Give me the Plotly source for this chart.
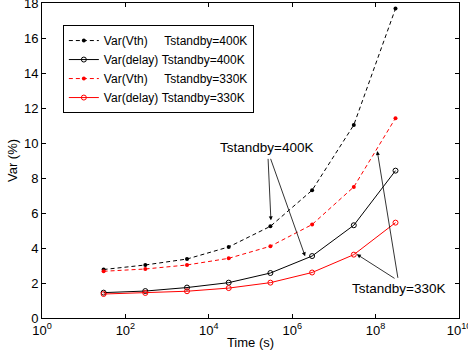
import plotly.graph_objects as go

time_s = [3e1, 3e2, 3e3, 3e4, 3e5, 3e6, 3e7, 3e8]
var_vth_400 = [2.77, 3.03, 3.37, 4.06, 5.24, 7.30, 11.03, 17.68]
var_delay_400 = [1.45, 1.54, 1.74, 2.02, 2.57, 3.54, 5.30, 8.42]
var_vth_330 = [2.67, 2.80, 3.03, 3.41, 4.10, 5.34, 7.49, 11.42]
var_delay_330 = [1.37, 1.43, 1.53, 1.71, 2.02, 2.60, 3.62, 5.45]

xtick_vals = [1, 1e2, 1e4, 1e6, 1e8, 1e10]
xtick_text = ["10<sup>0</sup>", "10<sup>2</sup>", "10<sup>4</sup>", "10<sup>6</sup>", "10<sup>8</sup>", "10<sup>10</sup>"]
ytick_vals = [0, 2, 4, 6, 8, 10, 12, 14, 16, 18]

NB = "\u00a0"
names = [
    "Var(Vth)" + NB * 5 + "Tstandby=400K",
    "Var(delay)" + NB + "Tstandby=400K",
    "Var(Vth)" + NB * 5 + "Tstandby=330K",
    "Var(delay)" + NB + "Tstandby=330K",
]

FONT = "Liberation Sans, Arial, Helvetica, sans-serif"
fig = go.Figure()
fig.add_trace(go.Scatter(x=time_s, y=var_vth_400, name=names[0], mode="lines+markers",
                         line=dict(color="black", width=1, dash="4px,3px"),
                         marker=dict(symbol="circle", size=4, color="black")))
fig.add_trace(go.Scatter(x=time_s, y=var_delay_400, name=names[1], mode="lines+markers",
                         line=dict(color="black", width=1),
                         marker=dict(symbol="circle-open", size=5, color="black", line=dict(width=1))))
fig.add_trace(go.Scatter(x=time_s, y=var_vth_330, name=names[2], mode="lines+markers",
                         line=dict(color="red", width=1, dash="4px,3px"),
                         marker=dict(symbol="circle", size=4, color="red")))
fig.add_trace(go.Scatter(x=time_s, y=var_delay_330, name=names[3], mode="lines+markers",
                         line=dict(color="red", width=1),
                         marker=dict(symbol="circle-open", size=5, color="red", line=dict(width=1))))

arrow = dict(showarrow=True, arrowhead=2, arrowsize=1, arrowwidth=0.8, arrowcolor="black",
             axref="x", ayref="y", text="")
# annotation positions (log10 x for log axis)
fig.add_annotation(x=5.49, y=5.58, ax=5.42, ay=9.18, **arrow)
fig.add_annotation(x=6.31, y=3.53, ax=5.47, ay=9.18, **arrow)
fig.add_annotation(x=8.04, y=9.54, ax=8.54, ay=2.21, **arrow)
fig.add_annotation(x=7.55, y=3.64, ax=8.49, ay=2.21, **arrow)
fig.add_annotation(x=5.39, y=9.74, text="Tstandby=400K", showarrow=False,
                   font=dict(size=13.5, color="black", family=FONT))
fig.add_annotation(x=8.54, y=1.71, text="Tstandby=330K", showarrow=False,
                   font=dict(size=13.5, color="black", family=FONT))

axis_common = dict(showgrid=False, zeroline=False, showline=True, linecolor="black", linewidth=1,
                   mirror="ticks", ticks="inside", ticklen=4, tickcolor="black",
                   ticklabeloverflow="allow", automargin=False,
                   tickfont=dict(size=13, color="black", family=FONT))
fig.update_xaxes(type="log", range=[0, 10], tickvals=xtick_vals, ticktext=xtick_text,
                 title=dict(text="Time (s)", font=dict(size=13, color="black", family=FONT), standoff=1),
                 **axis_common)
fig.update_yaxes(range=[0, 18], tickvals=ytick_vals,
                 title=dict(text="Var (%)", font=dict(size=13, color="black", family=FONT), standoff=3),
                 **axis_common)

fig.update_layout(
    width=468, height=353,
    margin=dict(l=42, r=9, t=3, b=35),
    paper_bgcolor="white", plot_bgcolor="white",
    font=dict(family=FONT, size=13, color="black"),
    legend=dict(x=0.05, y=0.93, xanchor="left", yanchor="top",
                bordercolor="black", borderwidth=1, bgcolor="white",
                font=dict(size=12, family=FONT, color="black"),
                itemwidth=30, tracegroupgap=0),
    showlegend=True,
)
fig.write_html("out.html", config={"displayModeBar": False},
               post_script="document.body.style.margin='0';document.body.style.overflow='hidden';")
